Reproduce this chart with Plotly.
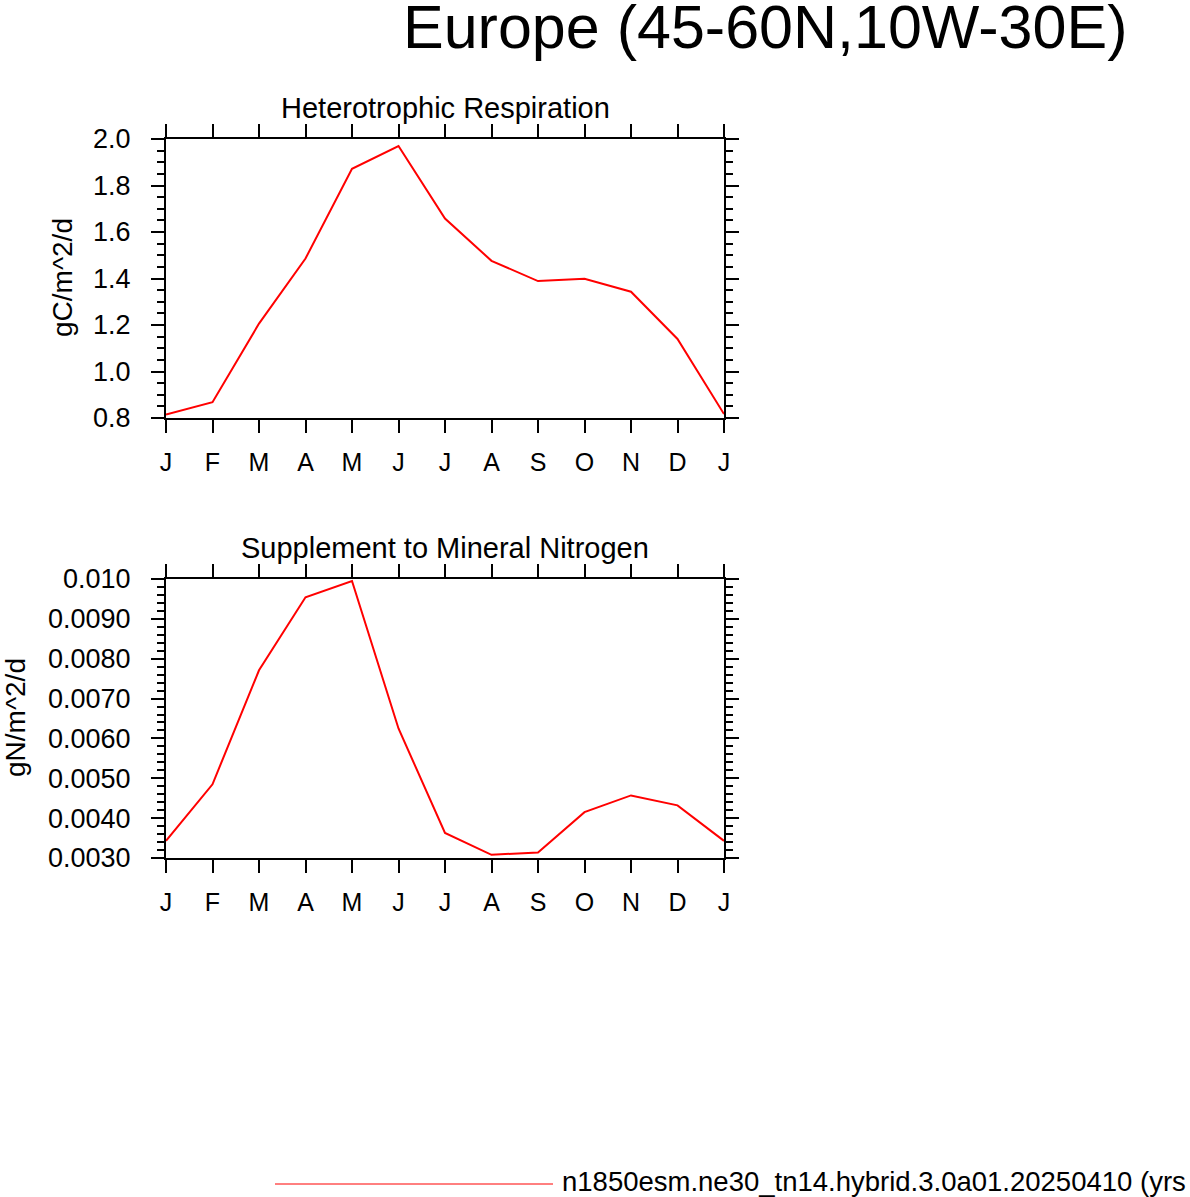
import plotly.graph_objects as go

# month labels along the x axis (Jan .. Dec, then Jan again)
months = ["J", "F", "M", "A", "M", "J", "J", "A", "S", "O", "N", "D", "J"]

# Heterotrophic Respiration (gC/m^2/d)
hr_vals = [0.815, 0.868, 1.206, 1.486, 1.872, 1.970, 1.658, 1.476,
           1.389, 1.399, 1.343, 1.140, 0.817]

# Supplement to Mineral Nitrogen (gN/m^2/d)
smn_vals = [0.00343, 0.00485, 0.00771, 0.00954, 0.00995, 0.00625, 0.00363,
            0.00308, 0.00314, 0.00415, 0.00457, 0.00432, 0.00343]

hr_ticks = [0.8, 1.0, 1.2, 1.4, 1.6, 1.8, 2.0]
hr_ticktext = ["0.8", "1.0", "1.2", "1.4", "1.6", "1.8", "2.0"]
smn_ticks = [0.003, 0.004, 0.005, 0.006, 0.007, 0.008, 0.009, 0.010]
smn_ticktext = ["0.0030", "0.0040", "0.0050", "0.0060", "0.0070",
                "0.0080", "0.0090", "0.010"]

case_name = "n1850esm.ne30_tn14.hybrid.3.0a01.20250410 (yrs"

W, H = 1190, 1197
FONT = "Liberation Sans, Arial, sans-serif"
x = list(range(len(months)))


def px_x(p):
    return p / W


def px_y(p):
    return 1 - p / H


fig = go.Figure()
fig.add_trace(go.Scatter(x=x, y=hr_vals, mode="lines",
                         line=dict(color="red", width=2),
                         xaxis="x", yaxis="y", showlegend=False))
fig.add_trace(go.Scatter(x=x, y=smn_vals, mode="lines",
                         line=dict(color="red", width=2),
                         xaxis="x2", yaxis="y2", showlegend=False))

xcommon = dict(
    range=[0, 12], tickvals=x, ticktext=months,
    showline=True, linecolor="black", linewidth=2, mirror="ticks",
    ticks="outside", ticklen=13, tickwidth=2, tickcolor="black",
    showgrid=False, zeroline=False, ticklabelstandoff=8, automargin=False,
    tickfont=dict(family=FONT, size=25, color="black"),
    domain=[px_x(166), px_x(724)],
)
ycommon = dict(
    showline=True, linecolor="black", linewidth=2, mirror="ticks",
    ticks="outside", ticklen=13, tickwidth=2, tickcolor="black",
    showgrid=False, zeroline=False, ticklabelstandoff=15, automargin=False,
    tickfont=dict(family=FONT, size=27, color="black"),
)

fig.update_layout(
    width=W, height=H,
    margin=dict(l=0, r=0, t=0, b=0, autoexpand=False),
    paper_bgcolor="white", plot_bgcolor="white",
    xaxis=dict(xcommon, anchor="y"),
    yaxis=dict(ycommon, range=[0.8, 2.0], tickvals=hr_ticks,
               ticktext=hr_ticktext, anchor="x",
               domain=[px_y(418), px_y(139)],
               minor=dict(dtick=0.05, ticks="outside", ticklen=7,
                          tickwidth=2, tickcolor="black", showgrid=False)),
    xaxis2=dict(xcommon, anchor="y2"),
    yaxis2=dict(ycommon, range=[0.003, 0.010], tickvals=smn_ticks,
                ticktext=smn_ticktext, anchor="x2",
                domain=[px_y(858), px_y(579)],
                minor=dict(dtick=0.0002, ticks="outside", ticklen=7,
                           tickwidth=2, tickcolor="black", showgrid=False)),
)

# titles and axis labels, placed in pixel positions of the page
labels = [
    dict(text="Europe (45-60N,10W-30E)", x=765, y=27, size=61, angle=0),
    dict(text="Heterotrophic Respiration", x=445, y=108, size=29, angle=0),
    dict(text="Supplement to Mineral Nitrogen", x=445, y=548, size=29, angle=0),
    dict(text="gC/m^2/d", x=62, y=278, size=28, angle=-90),
    dict(text="gN/m^2/d", x=15, y=718, size=28, angle=-90),
]
for a in labels:
    fig.add_annotation(text=a["text"], x=px_x(a["x"]), y=px_y(a["y"]),
                       xref="paper", yref="paper", showarrow=False,
                       xanchor="center", yanchor="middle",
                       textangle=a["angle"],
                       font=dict(family=FONT, size=a["size"], color="black"))

# legend entry at the bottom
fig.add_shape(type="line", xref="paper", yref="paper",
              x0=px_x(275), x1=px_x(553), y0=px_y(1184), y1=px_y(1184),
              line=dict(color="red", width=1))
fig.add_annotation(text=case_name, x=px_x(560), y=px_y(1181), xref="paper",
                   yref="paper", showarrow=False, xanchor="left",
                   yanchor="middle",
                   font=dict(family=FONT, size=27.5, color="black"))

fig.write_html("out.html", config={"displayModeBar": False},
               post_script="document.body.style.margin='0';")
